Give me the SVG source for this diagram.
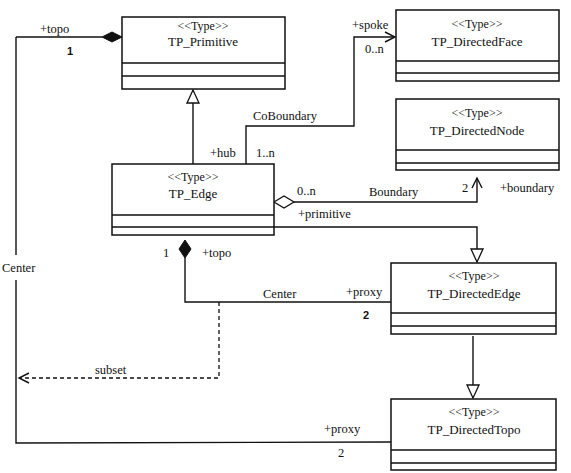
<svg xmlns="http://www.w3.org/2000/svg" width="571" height="473" viewBox="0 0 571 473">
<defs>
<style>
.box{fill:#fff;stroke:#111;stroke-width:1.5}
.ln{fill:none;stroke:#111;stroke-width:1.4}
.dash{fill:none;stroke:#111;stroke-width:1.3;stroke-dasharray:4,3}
text{font-size:12.5px;fill:#111}
.st{font-size:12px}
.nm{font-size:13px}
.b{font-weight:bold;font-size:11px}
.c{text-anchor:middle}
</style>
<marker id="tri" markerWidth="16" markerHeight="16" refX="14" refY="7" orient="auto" markerUnits="userSpaceOnUse"><path d="M1,1 L14,7 L1,13 Z" fill="#fff" stroke="#111" stroke-width="1.3"/></marker>
<marker id="open" markerWidth="14" markerHeight="14" refX="11" refY="6" orient="auto" markerUnits="userSpaceOnUse"><path d="M1,1 L11,6 L1,11" fill="none" stroke="#111" stroke-width="1.4"/></marker>
</defs>
<g id="connectors">
<path class="ln" d="M16,37 L102,37"/>
<path d="M102,37 L112,32 L122,37 L112,42 Z" fill="#111" stroke="#111"/>
<path class="ln" d="M16,37 L16,255 M16,280 L16,443 L391,442"/>
<path class="ln" d="M193,164 L193,90" marker-end="url(#tri)"/>
<path class="ln" d="M246,164 L246,126 L354,126 L354,37 L395,37" marker-end="url(#open)"/>
<path d="M274,202 L284,196 L294,202 L284,208 Z" fill="#fff" stroke="#111" stroke-width="1.3"/>
<path class="ln" d="M294,202 L477,202 L477,178" marker-end="url(#open)"/>
<path class="ln" d="M274,227 L477,227 L477,262" marker-end="url(#tri)"/>
<path d="M185,240 L191,249 L185,258 L179,249 Z" fill="#111" stroke="#111"/>
<path class="ln" d="M185,258 L185,302 L391,302"/>
<path class="dash" d="M219,302 L219,378 L19,378" marker-end="url(#open)"/>
<path class="ln" d="M473,336 L473,398" marker-end="url(#tri)"/>
</g>
<g id="labels" font-family="Liberation Serif, serif">
<text x="40" y="33">+topo</text>
<text x="67" y="55" class="b" font-family="Liberation Sans, sans-serif">1</text>
<text x="2" y="272">Center</text>
<text x="253" y="120">CoBoundary</text>
<text x="210" y="157">+hub</text>
<text x="256" y="157">1..n</text>
<text x="352" y="29">+spoke</text>
<text x="365" y="53">0..n</text>
<text x="297" y="195">0..n</text>
<text x="369" y="196">Boundary</text>
<text x="462" y="192">2</text>
<text x="500" y="192">+boundary</text>
<text x="298" y="218">+primitive</text>
<text x="163" y="257">1</text>
<text x="202" y="257">+topo</text>
<text x="263" y="298">Center</text>
<text x="346" y="296">+proxy</text>
<text x="363" y="319" class="b" font-family="Liberation Sans, sans-serif">2</text>
<text x="95" y="374">subset</text>
<text x="324" y="433">+proxy</text>
<text x="338" y="457">2</text>
</g>
<g font-family="Liberation Serif, serif">
<g id="TP_Primitive">
<rect class="box" x="122" y="17" width="163" height="72"/>
<path class="ln" d="M122,63 H285 M122,76 H285"/>
<text x="203" y="30" class="c st">&lt;&lt;Type&gt;&gt;</text>
<text x="203" y="46" class="c nm">TP_Primitive</text>
</g>
<g id="TP_DirectedFace">
<rect class="box" x="396" y="10" width="163" height="71"/>
<path class="ln" d="M396,61 H559 M396,73 H559"/>
<text x="477" y="28" class="c st">&lt;&lt;Type&gt;&gt;</text>
<text x="477" y="46" class="c nm">TP_DirectedFace</text>
</g>
<g id="TP_DirectedNode">
<rect class="box" x="396" y="99" width="163" height="71"/>
<path class="ln" d="M396,150 H559 M396,163 H559"/>
<text x="477" y="117" class="c st">&lt;&lt;Type&gt;&gt;</text>
<text x="477" y="135" class="c nm">TP_DirectedNode</text>
</g>
<g id="TP_Edge">
<rect class="box" x="112" y="164" width="162" height="71"/>
<path class="ln" d="M112,215 H274 M112,227 H274"/>
<text x="193" y="181" class="c st">&lt;&lt;Type&gt;&gt;</text>
<text x="193" y="198" class="c nm">TP_Edge</text>
</g>
<g id="TP_DirectedEdge">
<rect class="box" x="391" y="263" width="165" height="71"/>
<path class="ln" d="M391,313 H556 M391,326 H556"/>
<text x="474" y="280" class="c st">&lt;&lt;Type&gt;&gt;</text>
<text x="474" y="298" class="c nm">TP_DirectedEdge</text>
</g>
<g id="TP_DirectedTopo">
<rect class="box" x="391" y="399" width="165" height="71"/>
<path class="ln" d="M391,450 H556 M391,463 H556"/>
<text x="474" y="416" class="c st">&lt;&lt;Type&gt;&gt;</text>
<text x="474" y="434" class="c nm">TP_DirectedTopo</text>
</g>
</g>
</svg>
